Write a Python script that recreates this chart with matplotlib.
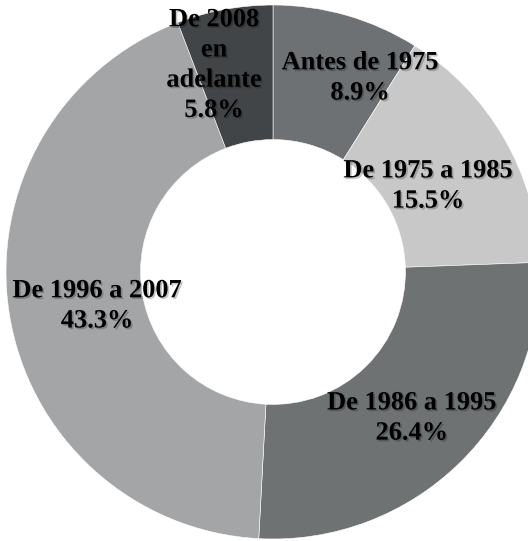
import matplotlib
matplotlib.use("Agg")
import matplotlib.pyplot as plt
import matplotlib.patheffects as pe

categories = ["Antes de 1975", "De 1975 a 1985", "De 1986 a 1995",
              "De 1996 a 2007", "De 2008\nen\nadelante"]
values = [8.9, 15.5, 26.4, 43.3, 5.8]
colors = ["#6d7174", "#c8c8c8", "#6e7273", "#a3a5a7", "#424547"]

# label centres, in data units (pie radius = 1)
label_xy = [(0.326, 0.727), (0.581, 0.322), (0.520, -0.547),
            (-0.659, -0.127), (-0.221, 0.775)]

fig = plt.figure(figsize=(5.28, 5.41), dpi=100)
ax = fig.add_axes([0, 0, 1, 1])

ax.pie(values, colors=colors, startangle=90, counterclock=False,
       radius=1, center=(0, 0), frame=True,
       wedgeprops=dict(width=0.504, edgecolor="white", linewidth=0.4))

for name, v, (x, y) in zip(categories, values, label_xy):
    ax.text(x, y, f"{name}\n{v:.1f}%", ha="center", va="center",
            fontsize=19, fontweight="bold", family="Liberation Serif",
            linespacing=1.4, color="black",
            path_effects=[pe.withSimplePatchShadow(offset=(1.2, -1.2),
                                                   shadow_rgbFace="black",
                                                   alpha=0.22)])

# pie centre sits at pixel (273, 272), radius 267 px
ax.set_xlim(-273 / 267, (528 - 273) / 267)
ax.set_ylim((272 - 541) / 267, 272 / 267)
ax.set_aspect("auto")
ax.axis("off")

fig.savefig("out.png", dpi=100)
